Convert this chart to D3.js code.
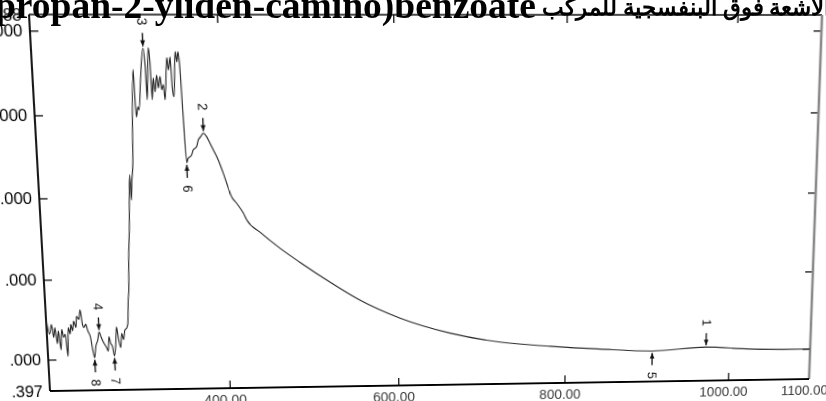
<!DOCTYPE html>
<html><head><meta charset="utf-8">
<script src="https://cdn.jsdelivr.net/npm/d3@7"></script>
<style>
html,body{margin:0;padding:0;background:#fff;}
body{width:826px;height:401px;overflow:hidden;position:relative;}
#chart{position:absolute;left:0;top:0;transform-origin:0 0;overflow:visible;}
#title{position:absolute;left:0;top:0;z-index:2;}
</style></head><body>
<svg id="chart"></svg>
<svg id="title" width="826" height="40"></svg>
<script>
// ---------- data ----------
const titleEnglish = "(propan-2-yliden-camino)benzoate";
const titleArabic = "ملحق طيف الأشعة فوق البنفسجية للمركب";
const wavelengths = [190,193.1,195.9,197.7,199.7,201.6,203.5,205.5,207.4,209.3,211.2,213.1,215,217,218.1,220,221.6,223.9,225.3,227.7,229.7,231.6,233.1,235.4,237.3,240.1,242,243.8,245.8,248.4,250.4,252.3,255.3,258.4,260,261.5,263.1,265,266.9,268.8,270.7,272.6,274.6,276.5,278.4,280.3,282.3,284.1,
285.8,287,288.5,290.7,294.1,294.6,296,298.4,299.1,303.2,303.7,304.5,306.8,307.8,310.9,315.2,316.9,317.5,321.2,322.4,323.2,325.5,326.8,329.4,330.7,333.2,334.5,336.5,337.8,341.6,342.9,345.4,346.5,348,351.3,352.8,354.4,355.7,357.5,359.6,
361.2,365.4,367.5,371.6,373.7,376.6,379.8,383.4,387,390.5,395.8,401,404.5,409.8,415.3,422.6,426.3,441.1,463.6,486.4,521.2,556.1,603.1,662.6,722.4,782.5,843,906.3,971.9,1026,1100];
const absorbance = [0.52,0.32,0.44,0.28,0.40,0.20,0.36,0.12,0.38,0.28,0.32,0.035,0.40,0.32,0.44,0.36,0.48,0.40,0.54,0.50,0.62,0.44,0.40,0.44,0.36,0.28,0.12,0.016,0.16,0.24,0.34,0.28,0.20,0.14,0.096,0.28,0.20,0.16,0.035,0.16,0.40,0.24,0.14,0.32,0.24,0.36,0.38,0.44,
0.74,0.86,1.25,1.60,2.28,1.97,2.19,2.46,2.70,3.54,3.22,2.975,3.095,3.06,3.41,3.79,3.58,3.18,3.80,3.63,3.18,3.44,3.275,3.475,3.32,3.46,3.30,3.36,3.18,3.68,3.535,3.69,3.32,3.215,3.75,3.63,3.75,3.61,3.0,2.42,
2.47,2.51,2.575,2.615,2.695,2.735,2.777,2.735,2.655,2.575,2.45,2.29,2.17,2.0,1.92,1.80,1.715,1.564,1.363,1.186,0.932,0.70,0.466,0.266,0.142,0.080,0.034,0.000,0.040,0.007,-0.004];
const xTickValues = [400,600,800,1000,1100];
const yTickValues = [-0.397,0,1,2,3,4,4.188];
const xDomain = [190,1100];
const yDomain = [-0.397,4.188];
const peakNumbers = [1,2,3,4,5,6,7,8];
const peakWavelengths = [971.9,379.8,315.2,250.4,906.3,359.6,266.9,243.8];
const peakAbsorbance = [0.040,2.777,3.79,0.34,0.000,2.42,0.035,0.016];
const peakKinds = ["max","max","max","max","min","min","min","min"];

// ---------- layout (styling) ----------
const W = 775, H = 376, ml = 70, mt = 40;
// corners of the scanned (tilted) frame on the page: TL, TR, BR, BL
const quad = [[29,14.5],[822,15],[809,379],[50,391]];

// title (not tilted)
const ts = d3.select("#title");
ts.append("text").attr("x",536).attr("y",18).attr("text-anchor","end")
  .attr("font-family","Liberation Serif, Times New Roman, serif").attr("font-weight","bold").attr("font-size",37.5).text(titleEnglish);
ts.append("text").attr("x",542).attr("y",15).attr("text-anchor","start")
  .attr("font-family","Liberation Serif, Times New Roman, serif").attr("font-weight","bold").attr("font-size",23).text(titleArabic);

const svg = d3.select("#chart").attr("width", ml+W+60).attr("height", mt+H+60);
const defs = svg.append("defs");
defs.append("clipPath").attr("id","lblclip").append("rect")
  .attr("x",-37).attr("y",-30).attr("width",60).attr("height",H+60);
const g = svg.append("g").attr("transform", `translate(${ml},${mt})`);

const x = d3.scaleLinear().domain(xDomain).range([0, W]);
const y = d3.scaleLinear().domain(yDomain).range([H, 0]);

// axes
const fmt3 = v => d3.format(".3f")(v).replace("−","-");
const axB = g.append("g").attr("transform", `translate(0,${H})`)
  .call(d3.axisBottom(x).tickValues(xTickValues).tickFormat(d3.format(".2f")).tickSizeInner(-8).tickSizeOuter(0).tickPadding(7));
const axT = g.append("g")
  .call(d3.axisTop(x).tickValues(xTickValues.slice(0,4)).tickFormat("").tickSizeInner(-8).tickSizeOuter(0));
const axL = g.append("g").attr("clip-path","url(#lblclip)")
  .call(d3.axisLeft(y).tickValues(yTickValues).tickFormat(fmt3).tickSizeInner(-8).tickSizeOuter(0).tickPadding(7));
const axR = g.append("g").attr("transform", `translate(${W},0)`)
  .call(d3.axisRight(y).tickValues(yTickValues.slice(1,6)).tickFormat("").tickSizeInner(-8).tickSizeOuter(0));

[axB,axT,axL,axR].forEach(a => { a.select(".domain").remove(); a.selectAll(".tick line").attr("stroke","#111").attr("stroke-width",1.3); });
axB.selectAll("text").attr("font-family","Liberation Sans, Arial, sans-serif").attr("font-size",14).attr("fill","#3a3a3a").attr("dx",-5);
axL.selectAll("text").attr("font-family","Liberation Sans, Arial, sans-serif").attr("font-size",16).attr("fill","#000");
axL.selectAll(".tick").filter(d => d===-0.397 || d===4.188).select("line").remove();
axB.selectAll(".tick").filter(d => d===1100).select("line").remove();

// frame
g.append("line").attr("x1",0).attr("y1",0).attr("x2",W).attr("y2",0).attr("stroke","#111").attr("stroke-width",1.4);
g.append("line").attr("x1",W).attr("y1",0).attr("x2",W).attr("y2",H).attr("stroke","#8a8a8a").attr("stroke-width",2.6);
g.append("line").attr("x1",0).attr("y1",0).attr("x2",0).attr("y2",H).attr("stroke","#000").attr("stroke-width",1.8);
g.append("line").attr("x1",0).attr("y1",H).attr("x2",W).attr("y2",H).attr("stroke","#000").attr("stroke-width",1.8);

// spectrum
const pts = wavelengths.map((w,i) => [w, absorbance[i]]);
g.append("path").datum(pts)
  .attr("d", d3.line().curve(d3.curveMonotoneX).x(d => x(d[0])).y(d => y(d[1])))
  .attr("fill","none").attr("stroke","#262626").attr("stroke-width",1.1).attr("stroke-linejoin","round");

// peak markers
const gap = 2, len = 13, lab = 11;
peakNumbers.forEach((n,i) => {
  const px = x(peakWavelengths[i]), py = y(peakAbsorbance[i]);
  const s = peakKinds[i] === "max" ? -1 : 1;
  const tip = py + s*gap, tail = tip + s*len;
  g.append("line").attr("x1",px).attr("x2",px).attr("y1",tip).attr("y2",tail).attr("stroke","#111").attr("stroke-width",1.3);
  g.append("path").attr("d", `M${px},${tip} L${px-2.4},${tip+s*6} L${px+2.4},${tip+s*6} Z`).attr("fill","#111");
  g.append("text").attr("transform", `translate(${px},${tail + s*lab}) rotate(90)`)
    .attr("text-anchor","middle").attr("dominant-baseline","central")
    .attr("font-family","Liberation Sans, Arial, sans-serif").attr("font-size",13).attr("fill","#111").text(n);
});

// perspective of the scanned page: map plot rectangle onto the tilted quad
function squareToQuad(p){
  const [x0,y0]=p[0],[x1,y1]=p[1],[x2,y2]=p[2],[x3,y3]=p[3];
  const dx1=x1-x2,dx2=x3-x2,dx3=x0-x1+x2-x3,dy1=y1-y2,dy2=y3-y2,dy3=y0-y1+y2-y3;
  const den=dx1*dy2-dx2*dy1;
  const gg=(dx3*dy2-dx2*dy3)/den, hh=(dx1*dy3-dx3*dy1)/den;
  return [[x1-x0+gg*x1, x3-x0+hh*x3, x0],[y1-y0+gg*y1, y3-y0+hh*y3, y0],[gg,hh,1]];
}
const Hq = squareToQuad(quad);
const A = [[1/W,0,-ml/W],[0,1/H,-mt/H],[0,0,1]];
const M = [0,1,2].map(r => [0,1,2].map(c => Hq[r][0]*A[0][c]+Hq[r][1]*A[1][c]+Hq[r][2]*A[2][c]));
d3.select("#chart").style("transform",
  `matrix3d(${M[0][0]},${M[1][0]},0,${M[2][0]},${M[0][1]},${M[1][1]},0,${M[2][1]},0,0,1,0,${M[0][2]},${M[1][2]},0,${M[2][2]})`);
</script>
</body></html>
